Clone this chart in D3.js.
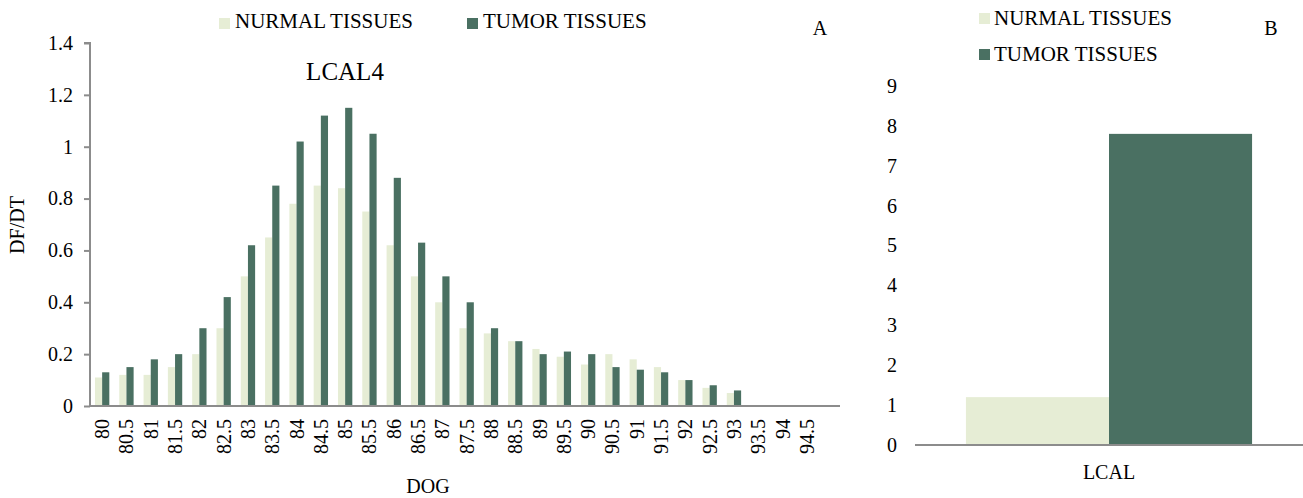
<!DOCTYPE html>
<html><head><meta charset="utf-8">
<script src="https://cdn.jsdelivr.net/npm/d3@7"></script>
<style>body{margin:0;background:#fff}text{font-family:"Liberation Serif","Times New Roman",serif;fill:#000}</style>
</head><body><svg id="c" width="1303" height="498" font-family="Liberation Serif"></svg>
<script>
const categories = ["80","80.5","81","81.5","82","82.5","83","83.5","84","84.5","85","85.5","86","86.5","87","87.5","88","88.5","89","89.5","90","90.5","91","91.5","92","92.5","93","93.5","94","94.5"];
const normalValues = [0.11,0.12,0.12,0.15,0.20,0.30,0.50,0.65,0.78,0.85,0.84,0.75,0.62,0.50,0.40,0.30,0.28,0.25,0.22,0.19,0.16,0.20,0.18,0.15,0.10,0.07,0.05,0,0,0];
const tumorValues  = [0.13,0.15,0.18,0.20,0.30,0.42,0.62,0.85,1.02,1.12,1.15,1.05,0.88,0.63,0.50,0.40,0.30,0.25,0.20,0.21,0.20,0.15,0.14,0.13,0.10,0.08,0.06,0,0,0];
const yTicksA = [0,0.2,0.4,0.6,0.8,1,1.2,1.4];
const seriesNames = ["NURMAL TISSUES","TUMOR TISSUES"];
const categoriesB = ["LCAL"];
const normalB = [1.2];
const tumorB = [7.8];
const yTicksB = [0,1,2,3,4,5,6,7,8,9];
const colors = ["#e6edd5","#4a7062"];
const axisColor = "#8c8c8c";
const FF = "Liberation Serif";

const svg = d3.select("#c");

// ---------- Chart A ----------
const yA = d3.scaleLinear().domain([0,1.4]).range([406,43]);
const xA = d3.scaleBand().domain(categories).range([90,819]).paddingInner(0.41).paddingOuter(0.205);
const xSub = d3.scaleBand().domain([0,1]).range([0,xA.bandwidth()]);
const gA = svg.append("g");
categories.forEach((c,i)=>{
  [normalValues[i],tumorValues[i]].forEach((v,s)=>{
    if(v<=0) return;
    gA.append("rect").attr("x",xA(c)+xSub(s)).attr("y",yA(v))
      .attr("width",xSub.bandwidth()).attr("height",yA(0)-yA(v)).attr("fill",colors[s]);
  });
});
// y axis
const yAxisA = gA.append("g").attr("transform","translate(90,0)")
  .call(d3.axisLeft(yA).tickValues(yTicksA).tickSize(6).tickPadding(11).tickFormat(d3.format("")));
yAxisA.attr("font-family",FF);
yAxisA.select(".domain").attr("stroke",axisColor).attr("stroke-width",2).attr("d","M-6,43H0V406");
yAxisA.selectAll(".tick line").attr("stroke",axisColor).attr("stroke-width",2);
yAxisA.selectAll(".tick text").attr("font-size",20).attr("fill","#000").attr("font-family",FF);
// x axis
const xAxisA = gA.append("g").attr("transform","translate(0,406)")
  .call(d3.axisBottom(xA).tickSize(0).tickPadding(0));
xAxisA.attr("font-family",FF);
xAxisA.select(".domain").remove();
gA.append("line").attr("x1",89).attr("x2",840).attr("y1",406).attr("y2",406).attr("stroke",axisColor).attr("stroke-width",2);
xAxisA.selectAll(".tick text").attr("font-size",20).attr("fill","#000").attr("font-family",FF)
  .attr("transform","rotate(-90)").attr("text-anchor","end").attr("x",-13).attr("y",0).attr("dy","0.35em");
// titles
gA.append("text").attr("x",345).attr("y",80).attr("text-anchor","middle").attr("font-size",25).text("LCAL4");
gA.append("text").attr("x",820).attr("y",35).attr("text-anchor","middle").attr("font-size",20).text("A");
gA.append("text").attr("x",428).attr("y",493).attr("text-anchor","middle").attr("font-size",20).text("DOG");
gA.append("text").attr("transform","translate(24,225) rotate(-90)").attr("text-anchor","middle").attr("font-size",20).text("DF/DT");
// legend A
const legA = [[219,235],[467,483]];
seriesNames.forEach((n,s)=>{
  gA.append("rect").attr("x",legA[s][0]).attr("y",18).attr("width",11).attr("height",11).attr("fill",colors[s]);
  gA.append("text").attr("x",legA[s][1]).attr("y",28).attr("font-size",21).text(n);
});

// ---------- Chart B ----------
const gB = svg.append("g");
const yB = d3.scaleLinear().domain([0,9]).range([445,86]);
const xB = d3.scaleBand().domain(categoriesB).range([915,1303]).paddingInner(0).paddingOuter(0.178);
const xSubB = d3.scaleBand().domain([0,1]).range([0,xB.bandwidth()]);
categoriesB.forEach((c,i)=>{
  [normalB[i],tumorB[i]].forEach((v,s)=>{
    gB.append("rect").attr("x",xB(c)+xSubB(s)).attr("y",yB(v))
      .attr("width",xSubB.bandwidth()).attr("height",yB(0)-yB(v)).attr("fill",colors[s]);
  });
});
const yAxisB = gB.append("g").attr("transform","translate(915,0)")
  .call(d3.axisLeft(yB).tickValues(yTicksB).tickSize(0).tickPadding(18));
yAxisB.attr("font-family",FF);
yAxisB.select(".domain").remove();
yAxisB.selectAll(".tick text").attr("font-size",20).attr("fill","#000").attr("font-family",FF);
gB.append("line").attr("x1",915).attr("x2",1303).attr("y1",445).attr("y2",445).attr("stroke",axisColor).attr("stroke-width",2);
const xAxisB = gB.append("g").attr("transform","translate(0,445)").call(d3.axisBottom(xB).tickSize(0).tickPadding(20));
xAxisB.attr("font-family",FF);
xAxisB.select(".domain").remove();
xAxisB.selectAll(".tick text").attr("font-size",20).attr("fill","#000").attr("font-family",FF).attr("dy","0.71em");
gB.append("text").attr("x",1271).attr("y",35).attr("text-anchor","middle").attr("font-size",20).text("B");
const legBy = [[13,25],[49,61]];
seriesNames.forEach((n,s)=>{
  gB.append("rect").attr("x",979).attr("y",legBy[s][0]).attr("width",11).attr("height",11).attr("fill",colors[s]);
  gB.append("text").attr("x",994).attr("y",legBy[s][1]).attr("font-size",21).text(n);
});
</script></body></html>
